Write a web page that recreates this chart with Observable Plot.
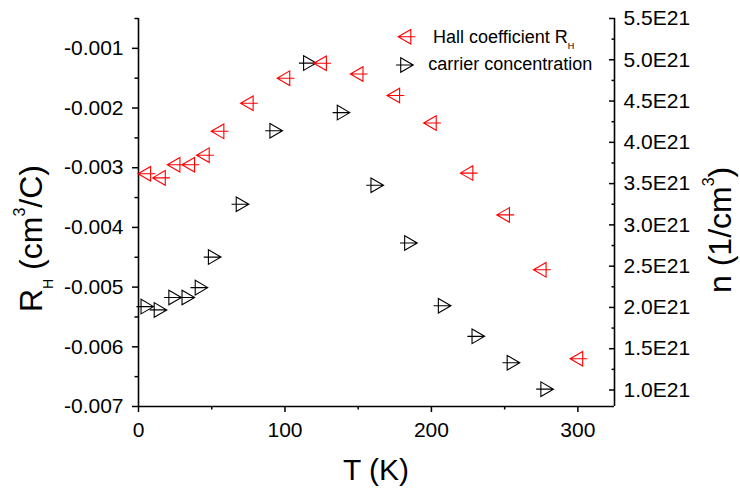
<!DOCTYPE html>
<html><head><meta charset="utf-8">
<script src="https://cdn.jsdelivr.net/npm/d3@7"></script>
<script src="https://cdn.jsdelivr.net/npm/@observablehq/plot@0.6"></script>
<style>
body{margin:0;background:#fff}
#chart svg{font-family:"Liberation Sans",Arial,sans-serif;display:block}
</style>
</head><body><div id="chart"></div>
<script>
// Hall coefficient series (red, left axis)
const tempRH = [5,15,25,35,45,55,75,100,125,150,175,200,225,250,275,300];
const hallRH = [-0.00310,-0.00317,-0.00295,-0.00295,-0.00279,-0.00239,-0.00192,-0.00150,-0.00125,-0.00143,-0.00179,-0.00225,-0.00309,-0.00379,-0.00471,-0.00620];
// carrier concentration series (black, right axis, in units of 1E21 cm^-3)
const tempN = [5,14,24,33,42,51,70,93,116,139,162,185,208,231,255,278];
const carrierN = [2.01,1.97,2.12,2.12,2.24,2.61,3.25,4.14,4.96,4.36,3.48,2.78,2.02,1.65,1.33,1.01];
// ticks
const xTicks = [0,100,200,300];
const xMinor = [50,150,250];
const rhTicks = [-0.001,-0.002,-0.003,-0.004,-0.005,-0.006,-0.007];
const rhMinor = [-0.0005,-0.0015,-0.0025,-0.0035,-0.0045,-0.0055,-0.0065];
const nTicks = [1.0,1.5,2.0,2.5,3.0,3.5,4.0,4.5,5.0,5.5];
const nMinor = [1.25,1.75,2.25,2.75,3.25,3.75,4.25,4.75,5.25];
const xDomain = [0,325];
const rhDomain = [-0.007,-0.0005];
const nDomain = [0.8,5.5];

const toRH = n => rhDomain[0] + (n - nDomain[0]) / (nDomain[1] - nDomain[0]) * (rhDomain[1] - rhDomain[0]);
const fromRH = r => nDomain[0] + (r - rhDomain[0]) / (rhDomain[1] - rhDomain[0]) * (nDomain[1] - nDomain[0]);

const redData = tempRH.map((t,i) => ({T:t, v:hallRH[i]}));
const blackData = tempN.map((t,i) => ({T:t, v:toRH(carrierN[i])}));

const triLeft = {draw(ctx){
  ctx.moveTo(-7.8,0); ctx.lineTo(4.8,-7.3); ctx.lineTo(4.8,7.3); ctx.closePath();
  ctx.moveTo(-7.8,0); ctx.lineTo(9.5,0);
}};
const triRight = {draw(ctx){
  ctx.moveTo(7.8,0); ctx.lineTo(-4.8,-7.3); ctx.lineTo(-4.8,7.3); ctx.closePath();
  ctx.moveTo(7.8,0); ctx.lineTo(-9.5,0);
}};

const RED = "#ff0000";
const fmtRH = d => "-" + Math.abs(d).toFixed(3);
const FS = 21;

const plot = Plot.plot({
  width:740, height:492,
  marginLeft:138, marginRight:126, marginTop:18, marginBottom:86,
  style:{fontFamily:"Liberation Sans, Arial, sans-serif", color:"#000", background:"#fff", overflow:"visible"},
  x:{domain:xDomain},
  y:{domain:rhDomain},
  marks:[
    Plot.axisX(xTicks, {tickSize:6, tickPadding:10, fontSize:FS, tickFormat:d=>String(d), label:null, strokeWidth:1.5}),
    Plot.axisX(xMinor, {tickSize:3.5, tickFormat:()=>"", label:null, strokeWidth:1.5}),
    Plot.axisY(rhTicks, {anchor:"left", tickSize:6, tickPadding:9, fontSize:FS, tickFormat:fmtRH, label:null, strokeWidth:1.5}),
    Plot.axisY(rhMinor, {anchor:"left", tickSize:3.5, tickFormat:()=>"", label:null, strokeWidth:1.5}),
    Plot.axisY(nTicks.map(toRH), {anchor:"right", tickSize:-6, tickPadding:15, fontSize:FS, tickFormat:d=>fromRH(d).toFixed(1)+"E21", label:null, strokeWidth:1.5}),
    Plot.axisY(nMinor.map(toRH), {anchor:"right", tickSize:-3.5, tickPadding:0, tickFormat:()=>"", label:null, strokeWidth:1.5}),
    Plot.ruleX([xDomain[0]], {stroke:"#000", strokeWidth:1.6}),
    Plot.ruleX([xDomain[1]], {stroke:"#000", strokeWidth:1.6}),
    Plot.ruleY([rhDomain[0]], {stroke:"#000", strokeWidth:1.6}),
    Plot.dot(blackData, {x:"T", y:"v", symbol:triRight, fill:"none", stroke:"#000", strokeWidth:1.1}),
    Plot.dot(redData, {x:"T", y:"v", symbol:triLeft, fill:"none", stroke:RED, strokeWidth:1.1})
  ]
});
document.getElementById("chart").appendChild(plot);

const svg = d3.select(plot);
const ff = "Liberation Sans, Arial, sans-serif";
const T = (sel) => sel.attr("font-family",ff).attr("fill","#000").attr("text-anchor","start");
// axis titles
svg.append("text").attr("x",376).attr("y",480).attr("text-anchor","middle")
  .attr("font-size",30).attr("font-family",ff).attr("fill","#000").text("T (K)");
const yl = T(svg.append("text")).attr("transform","translate(42,312) rotate(-90)").attr("font-size",32);
yl.append("tspan").text("R");
yl.append("tspan").attr("font-size",14).attr("dy",11).text("H");
yl.append("tspan").attr("dy",-11).text(" (cm");
yl.append("tspan").attr("font-size",16).attr("dy",-17).text("3");
yl.append("tspan").attr("dy",17).text("/C)");
const yr = T(svg.append("text")).attr("transform","translate(731,293) rotate(-90)").attr("font-size",32);
yr.append("tspan").text("n (1/cm");
yr.append("tspan").attr("font-size",16).attr("dy",-17).text("3");
yr.append("tspan").attr("dy",17).text(")");
// legend
svg.append("path").attr("d", d3.symbol(triLeft)()).attr("transform","translate(406,36.7)")
  .attr("fill","none").attr("stroke",RED).attr("stroke-width",1.1);
svg.append("path").attr("d", d3.symbol(triRight)()).attr("transform","translate(405.5,65)")
  .attr("fill","none").attr("stroke","#000").attr("stroke-width",1.1);
const l1 = T(svg.append("text")).attr("x",433).attr("y",43.3).attr("font-size",18);
l1.append("tspan").text("Hall coefficient R");
l1.append("tspan").attr("font-size",9).attr("dy",6).text("H");
T(svg.append("text")).attr("x",428.3).attr("y",70).attr("font-size",18).text("carrier concentration");
</script>
</body></html>
